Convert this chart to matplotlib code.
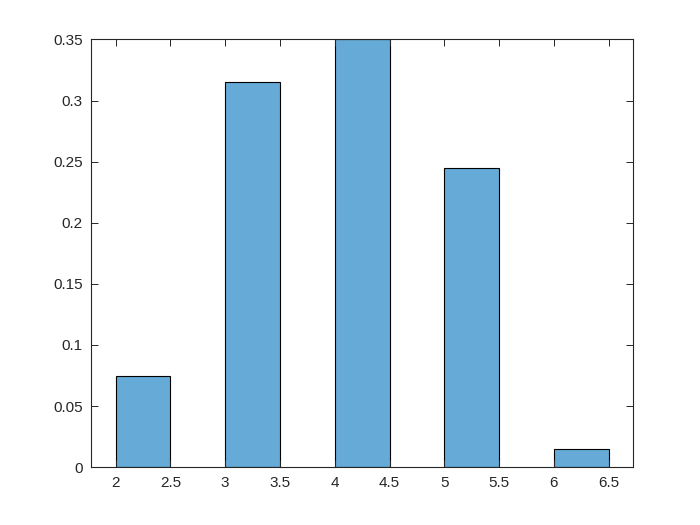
import matplotlib
matplotlib.use('Agg')
from matplotlib import pyplot as plt

plt.rcParams['font.family'] = ['Liberation Sans', 'DejaVu Sans']

# histogram bins (left edges) and normalized counts
bin_edges = [2, 3, 4, 5, 6]
bin_width = 0.5
probs = [0.075, 0.315, 0.35, 0.245, 0.015]

xticks = [2, 2.5, 3, 3.5, 4, 4.5, 5, 5.5, 6, 6.5]
xtick_labels = ['2', '2.5', '3', '3.5', '4', '4.5', '5', '5.5', '6', '6.5']
yticks = [0, 0.05, 0.1, 0.15, 0.2, 0.25, 0.3, 0.35]
ytick_labels = ['0', '0.05', '0.1', '0.15', '0.2', '0.25', '0.3', '0.35']

fig = plt.figure(figsize=(7, 5.25), dpi=100)
ax = fig.add_axes([0.13, 0.11, 0.774, 0.815])

ax.bar(bin_edges, probs, width=bin_width, align='edge',
       color='#66AAD7', edgecolor='black', linewidth=0.8)

ax.set_xlim(1.776, 6.72)
ax.set_ylim(0, 0.35)
ax.set_xticks(xticks)
ax.set_xticklabels(xtick_labels)
ax.set_yticks(yticks)
ax.set_yticklabels(ytick_labels)

ax.tick_params(direction='in', top=True, right=True, length=5, width=0.7,
               colors='#262626', labelsize=11, pad=6)
for s in ax.spines.values():
    s.set_color('#262626')
    s.set_linewidth(0.8)

fig.savefig('out.png', dpi=100)
